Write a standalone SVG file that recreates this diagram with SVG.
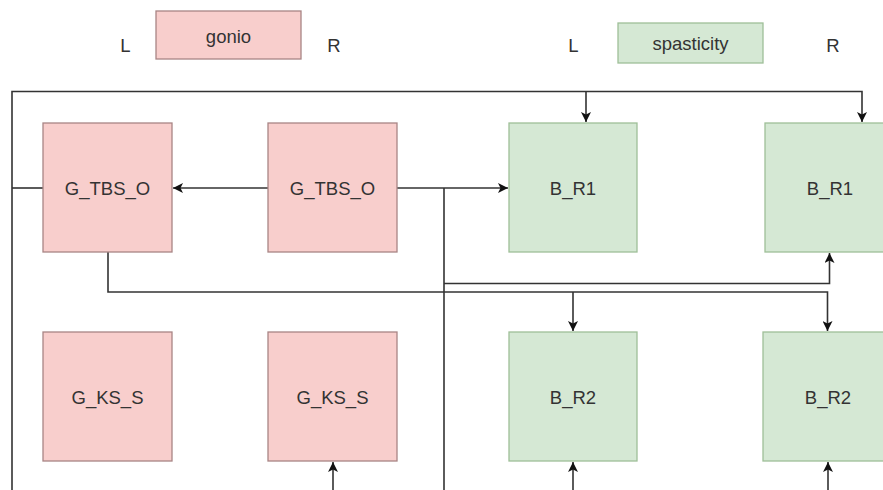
<svg xmlns="http://www.w3.org/2000/svg" width="883" height="490" viewBox="0 0 883 490">
<style>
.pink{fill:#f8cecc;stroke:#a88585;stroke-width:1.3}
.green{fill:#d5e8d4;stroke:#9fbf98;stroke-width:1.3}
text{font-family:"Liberation Sans",Arial,sans-serif;font-size:18.5px;fill:#333;text-anchor:middle;dominant-baseline:central}
.c path{fill:none;stroke:#333;stroke-width:1.6}
</style>
<defs>
<marker id="a" viewBox="0 0 10 10" refX="10" refY="5" markerWidth="10" markerHeight="10" markerUnits="userSpaceOnUse" orient="auto">
<path d="M0,0 L10,5 L0,10 L2.5,5 Z" fill="#111"/>
</marker>
</defs>
<rect width="883" height="490" fill="#fff"/>
<text x="125.5" y="45">L</text>
<g id="gonio"><rect class="pink" x="156" y="11" width="145" height="48"/><text x="228.5" y="36">gonio</text></g>
<text x="334" y="45">R</text>
<text x="573.5" y="45">L</text>
<g id="spasticity"><rect class="green" x="618" y="23" width="145" height="40"/><text x="690.5" y="43">spasticity</text></g>
<text x="833" y="45">R</text>
<g class="c" id="connectors">
<path d="M12,490 V91.5 H862 V122" marker-end="url(#a)"/>
<path d="M586,91.5 V122" marker-end="url(#a)"/>
<path d="M12,188 H43"/>
<path d="M268,188 H173" marker-end="url(#a)"/>
<path d="M397,188 H508" marker-end="url(#a)"/>
<path d="M444,188 V490"/>
<path d="M444,283.5 H829.5 V253" marker-end="url(#a)"/>
<path d="M108,252 V292 H827.5 V331" marker-end="url(#a)"/>
<path d="M573,292 V331" marker-end="url(#a)"/>
<path d="M333,490 V462" marker-end="url(#a)"/>
<path d="M573,490 V462" marker-end="url(#a)"/>
<path d="M828,490 V462" marker-end="url(#a)"/>
</g>
<g id="g_tbs_o_l"><rect class="pink" x="43" y="123" width="129" height="129"/><text x="107.5" y="188">G_TBS_O</text></g>
<g id="g_tbs_o_r"><rect class="pink" x="268" y="123" width="129" height="129"/><text x="332.5" y="188">G_TBS_O</text></g>
<g id="b_r1_l"><rect class="green" x="509" y="123" width="128" height="129"/><text x="573" y="188">B_R1</text></g>
<g id="b_r1_r"><rect class="green" x="765" y="123" width="129" height="129"/><text x="830" y="188">B_R1</text></g>
<g id="g_ks_s_l"><rect class="pink" x="43" y="332" width="129" height="129"/><text x="107.5" y="397">G_KS_S</text></g>
<g id="g_ks_s_r"><rect class="pink" x="268" y="332" width="129" height="129"/><text x="332.5" y="397">G_KS_S</text></g>
<g id="b_r2_l"><rect class="green" x="509" y="332" width="128" height="129"/><text x="573" y="397">B_R2</text></g>
<g id="b_r2_r"><rect class="green" x="763" y="332" width="129" height="129"/><text x="828" y="397">B_R2</text></g>
</svg>
